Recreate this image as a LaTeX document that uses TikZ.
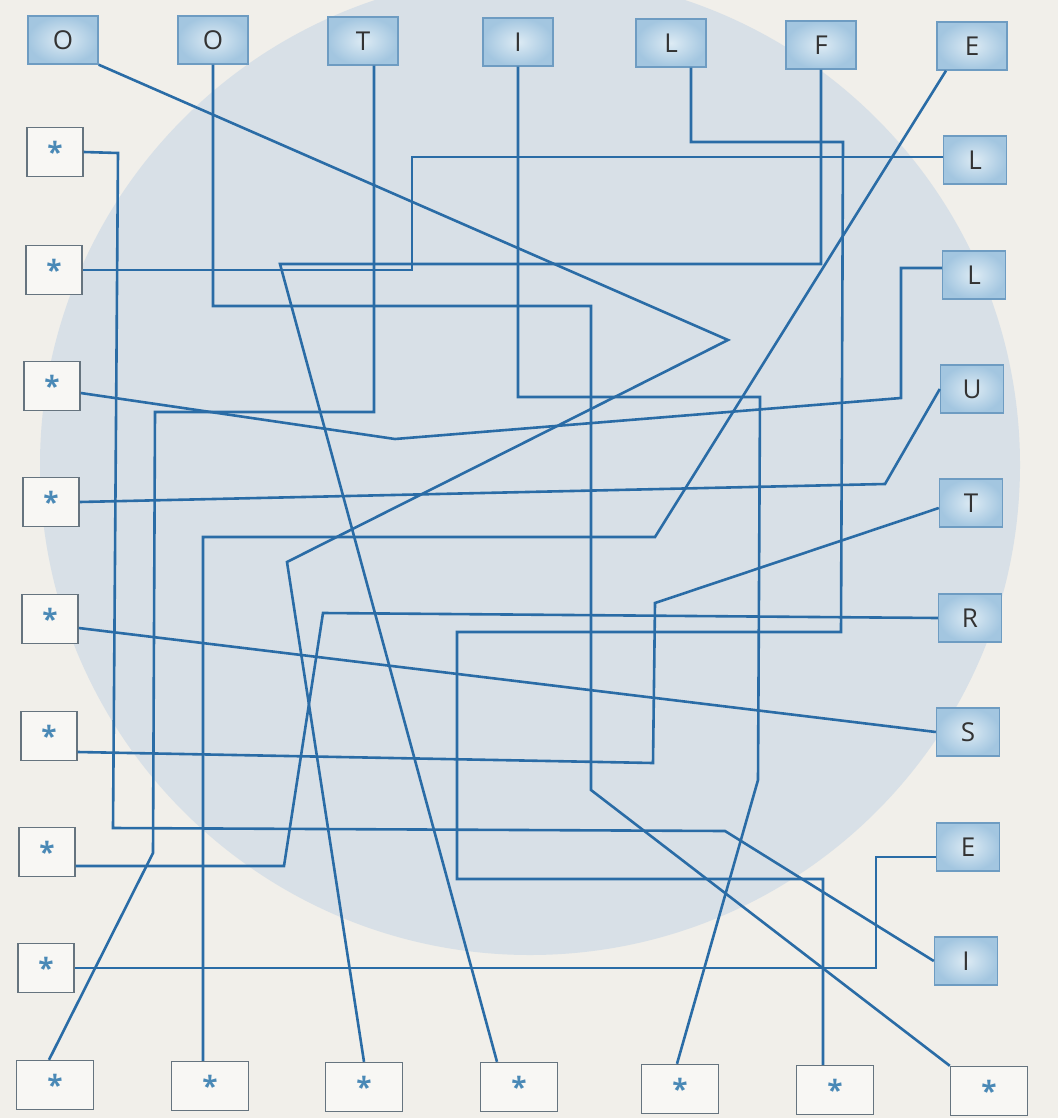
\documentclass[tikz,border=0pt]{standalone}
\usepackage{fontspec}
\setmainfont{Open Sans}
\definecolor{paper}{HTML}{F1EFEA}
\definecolor{disc}{HTML}{D8E0E7}
\definecolor{wireblue}{HTML}{2A6CA6}
\definecolor{boxedge}{HTML}{6E9CC2}
\definecolor{boxin}{HTML}{DDEBF4}
\definecolor{boxout}{HTML}{A3C6E0}
\definecolor{staredge}{HTML}{66747F}
\definecolor{starblue}{HTML}{4A89B6}
\tikzset{
  letterbox/.style={draw=boxedge, line width=1.4pt, inner color=boxin, outer color=boxout,
    minimum height=48pt, text=black!80, font=\fontsize{26}{30}\selectfont},
  toprow/.style={letterbox, minimum width=70pt},
  sidecol/.style={letterbox, minimum width=63pt},
  starbox/.style={draw=staredge, line width=1.4pt, fill=paper!50!white,
    minimum height=49pt, text=starblue, font=\fontsize{28}{30}\selectfont\bfseries},
  leftcol/.style={starbox, minimum width=56pt},
  bottomrow/.style={starbox, minimum width=77pt},
  wire/.style={draw=wireblue, line width=2.6pt},
}
\begin{document}
\begin{tikzpicture}[x=1pt,y=-1pt]
    \useasboundingbox (0,0) rectangle (1058,1118);
    % paper and the big disc behind everything
    \fill[paper] (0,0) rectangle (1058,1118);
    \begin{scope}
        \clip (0,0) rectangle (1058,1118);
        \fill[disc] (530,465) circle (490);
    \end{scope}
    % letter boxes, top row and right column
    \foreach \n/\x/\y/\lbl in {tO1/63/40/O, tO2/213/40/O, tT/363/41/T, tI/518/42/I,
        tL/671/43/L, tF/821/45/F, tE/972/46/E}
        \node[toprow] (\n) at (\x,\y) {\lbl};
    \foreach \n/\x/\y/\lbl in {rL1/975/160/L, rL2/974/275/L, rU/972/389/U, rT/971/503/T,
        rR/970/618/R, rS/968/732/S, rE/968/847/E, rI/966/961/I}
        \node[sidecol] (\n) at (\x,\y) {\lbl};
    % star boxes, left column and bottom row
    \foreach \n/\x/\y in {s1/55/152, s2/54/270, s3/52/386, s4/51/502,
        s5/50/619, s6/49/736, s7/47/852, s8/46/968}
        \node[leftcol] (\n) at (\x,\y) {*};
    \foreach \n/\x/\y in {b1/55/1085, b2/210/1086, b3/364/1087, b4/519/1087,
        b5/680/1089, b6/835/1090, b7/989/1091}
        \node[bottomrow] (\n) at (\x,\y) {*};
    % wires from the top row down to the bottom row
    \draw[wire] (tO1.south east) -- (728,340) -- (287,562) -- (b3.north);
    \draw[wire] (tO2.south) |- (591,306) -- (591,790) -- (b7.north west);
    \draw[wire] ([xshift=11pt]tT.south) |- (155,412) -- (153,853) -- ([xshift=-6pt]b1.north);
    \draw[wire] (tI.south) |- (760,397) -- (758,780) -- ([xshift=-3pt]b5.north);
    \draw[wire] ([xshift=20pt]tL.south) |- (843,142) -- (841,632) -| (457,879)
        -| ([xshift=-12pt]b6.north);
    \draw[wire] (tF.south) |- (280,264) -- ([xshift=-22pt]b4.north);
    \draw[wire] ([xshift=-26pt]tE.south) -- (655,537) -| ([xshift=-7pt]b2.north);
    % wires from the right column across to the left column
    \draw[wire] ([yshift=3pt]rL1.west) -| (412,270) -- (s2.east);
    \draw[wire] ([yshift=7pt]rL2.west) -| (901,398) -- (395,439) -- ([yshift=-7pt]s3.east);
    \draw[wire] (rU.west) -- (885,484) -- (s4.east);
    \draw[wire] ([yshift=-5pt]rT.west) -- (655,603) -- (653,763) -- ([yshift=-16pt]s6.east);
    \draw[wire] (rR.west) -- (323,613) -- (284,866) -- ([yshift=-14pt]s7.east);
    \draw[wire] (rS.west) -- ([yshift=-9pt]s5.east);
    \draw[wire] ([yshift=-10pt]rE.west) -| (876,968) -- (s8.east);
    \draw[wire] (rI.west) -- (725,831) -- (113,828) -- (118,153) -- (s1.east);
\end{tikzpicture}
\end{document}
